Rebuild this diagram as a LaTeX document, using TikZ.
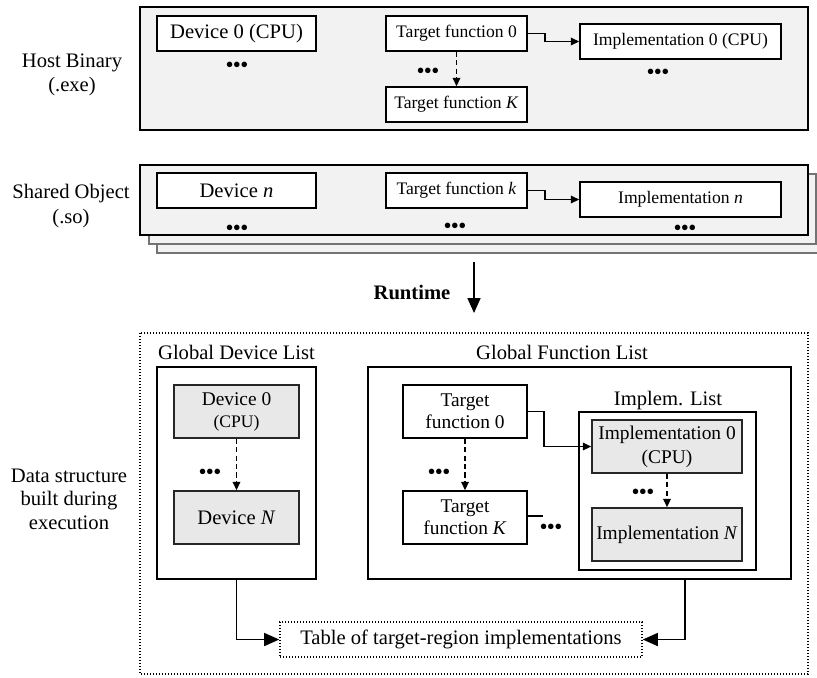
\documentclass[tikz,border=0pt]{standalone}
\usepackage{fontspec}
\setmainfont{Liberation Serif}
\usetikzlibrary{arrows.meta,positioning}
\definecolor{panegray}{gray}{0.95}
\definecolor{shade}{gray}{0.91}
\definecolor{ghost}{gray}{0.45}
\tikzset{
  box/.style={draw,line width=0.8pt,fill=white,align=center,inner sep=1pt,
              minimum height=17.5pt,font=\fontsize{10.3}{12.2}\selectfont},
  fbox/.style={box,font=\fontsize{8.8}{10.5}\selectfont},
  lbox/.style={box,minimum height=26.5pt,font=\fontsize{9.7}{11}\selectfont},
  gbox/.style={lbox,fill=shade,draw=black!85,font=\fontsize{9.7}{12}\selectfont},
  pane/.style={draw,line width=0.8pt,fill=panegray},
  ghost/.style={draw=ghost,line width=0.8pt,fill=panegray},
  listbox/.style={draw,line width=0.8pt,inner sep=0pt},
  lbl/.style={align=center,font=\fontsize{10.3}{12.2}\selectfont},
  dotrow/.style={inner sep=0pt,font=\fontsize{11.5}{12}\selectfont},
  arr/.style={-{Triangle[length=4.2pt,width=3.8pt]},line width=0.75pt},
  darr/.style={arr,dash pattern=on 2.6pt off 1.6pt},
  bigarr/.style={-{Triangle[length=7.5pt,width=6.5pt]},line width=0.8pt},
}
\newcommand{\bdots}{\textbullet\kern-0.3pt\textbullet\kern-0.3pt\textbullet}

\begin{document}
\begin{tikzpicture}[x=0.5pt,y=-0.5pt]
  \useasboundingbox (0,0) rectangle (817,677);
  \clip (0,0) rectangle (817,677);

  % host binary
  \draw[pane] (140,7) rectangle (808,130);
  \node[lbl] (hostlbl) at (72,75) {Host Binary\\(.exe)};
  \node[box,minimum width=79.5pt] (hdev) at (236.5,33.5) {Device 0 (CPU)};
  \node[dotrow] (hdevdots) at (237,67) {\bdots};
  \node[fbox,minimum width=70.5pt] (htf0) at (456.5,33.5) {Target function 0};
  \node[fbox,minimum width=70.5pt] (htfk) at (456.5,104.5) {Target function \textit{K}};
  \node[dotrow] (htfdots) at (428,73) {\bdots};
  \node[fbox,minimum width=100.5pt] (himp0) at (680.5,41.5) {Implementation 0 (CPU)};
  \node[dotrow] (himpdots) at (658,74) {\bdots};
  \draw[arr] (htf0.east) -- ++(17,0) |- (himp0.west);
  \draw[darr] (htf0) -- (htfk);

  % shared objects
  \draw[ghost] (157,183) rectangle (825,253);
  \draw[ghost] (149,174) rectangle (816,244);
  \draw[pane] (140,165) rectangle (808,235);
  \node[lbl] (solbl) at (71,206) {Shared Object\\(.so)};
  \node[box,minimum width=79.5pt] (sdev) at (236.5,190.5) {Device \textit{n}};
  \node[dotrow] (sdevdots) at (237,230) {\bdots};
  \node[fbox,minimum width=70.5pt] (stf) at (456.5,190.5) {Target function \textit{k}};
  \node[dotrow] (stfdots) at (455,228) {\bdots};
  \node[fbox,minimum width=100.5pt] (simp) at (680.5,199.5) {Implementation \textit{n}};
  \node[dotrow] (simpdots) at (685,230) {\bdots};
  \draw[arr] (stf.east) -- ++(17,0) |- (simp.west);

  % runtime
  \coordinate (rt1) at (474,262);
  \coordinate (rt2) at (474,313);
  \draw[bigarr] (rt1) -- (rt2);
  \node[lbl,font=\bfseries\fontsize{10.3}{12.2}\selectfont] (rtlbl) at (412,292) {Runtime};

  % data structure built during execution
  \draw[line width=0.8pt,dash pattern=on 0.7pt off 0.8pt] (140,333) rectangle (808,674);
  \node[lbl,font=\fontsize{10.3}{11.8}\selectfont] (dslbl) at (69,499) {Data structure\\built during\\execution};

  \node[listbox,minimum width=79.5pt,minimum height=106pt] (gdl) at (236.5,473) {};
  \node[lbl] (gdllbl) at (236.5,352) {Global Device List};
  \node[gbox,minimum width=62.5pt] (dev0) at (236.5,411.5)
    {Device 0\\[-1pt]{\fontsize{8.8}{10}\selectfont (CPU)}};
  \node[gbox,minimum width=62.5pt,font=\fontsize{10.3}{12.2}\selectfont] (devn) at (236.5,517.5) {Device \textit{N}};
  \node[dotrow] (devdots) at (210,474) {\bdots};
  \draw[darr] (dev0) -- (devn);

  \node[listbox,minimum width=211.5pt,minimum height=106pt] (gfl) at (579.5,473) {};
  \node[lbl] (gfllbl) at (562,352) {Global Function List};
  \node[lbox,minimum width=62pt] (tf0) at (465,411.5) {Target\\function 0};
  \node[lbox,minimum width=62pt] (tfk) at (465,517.5) {Target\\function \textit{K}};
  \node[dotrow] (tfdots) at (439,474) {\bdots};
  \draw[darr] (tf0) -- (tfk);

  \node[listbox,minimum width=88.5pt,minimum height=79pt] (ilist) at (667.5,491) {};
  \node[lbl] (ilistlbl) at (668,401) {Implem. List};
  \node[gbox,minimum width=75pt] (imp0) at (667,446.5) {Implementation 0\\(CPU)};
  \node[gbox,minimum width=75pt] (impn) at (667,534.5) {Implementation \textit{N}};
  \node[dotrow] (impdots) at (643,494) {\bdots};
  \draw[darr] (imp0) -- (impn);
  \draw[arr] (tf0.east) -- ++(16,0) |- (imp0.west);
  \coordinate (tfkend) at (543,516);
  \draw[line width=0.75pt] (tfk.east |- tfkend) -- (tfkend);
  \node[dotrow] (tfkdots) at (551,529) {\bdots};

  \node[box,dash pattern=on 0.7pt off 0.8pt,minimum width=181pt] (tbl) at (461,639.5)
    {Table of target-region implementations};
  \coordinate (gflout) at (685,579);
  \draw[bigarr] (gdl.south) |- (tbl.west);
  \draw[bigarr] (gflout) |- (tbl.east);
\end{tikzpicture}
\end{document}
